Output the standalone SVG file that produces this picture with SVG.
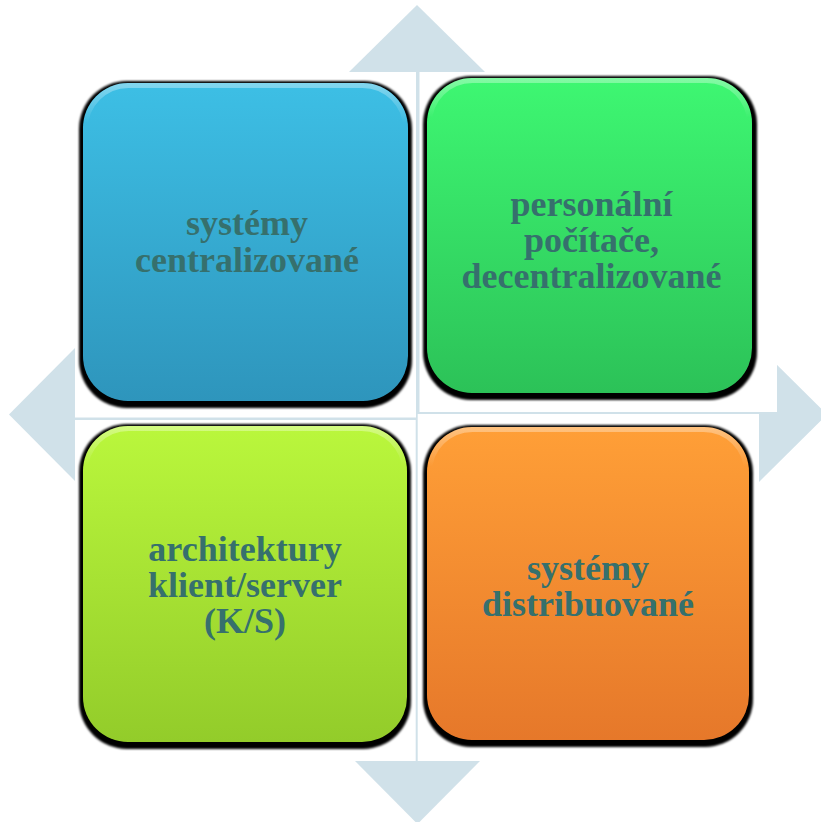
<svg xmlns="http://www.w3.org/2000/svg" width="821" height="822" viewBox="0 0 821 822">
<defs>
<style>
.bg{fill:#D0E1E9}
.wh{fill:#FFFFFF}
.sh{fill:#000000;filter:url(#blur)}
.lbl{font-family:"Liberation Serif","Times New Roman",serif;font-weight:bold;font-size:36px;fill:#36706D;text-anchor:middle}
.hl{fill:none;stroke:url(#hlg);stroke-width:5}
</style>
<filter id="blur" x="-5%" y="-5%" width="110%" height="110%"><feGaussianBlur stdDeviation="0.8"/></filter>
<linearGradient id="gBlue" x1="0" y1="0" x2="0" y2="1"><stop offset="0" stop-color="#3DBFE5"/><stop offset="1" stop-color="#2E95BC"/></linearGradient>
<linearGradient id="gGreen" x1="0" y1="0" x2="0" y2="1"><stop offset="0" stop-color="#3EF772"/><stop offset="1" stop-color="#2CC258"/></linearGradient>
<linearGradient id="gLime" x1="0" y1="0" x2="0" y2="1"><stop offset="0" stop-color="#BAF73C"/><stop offset="1" stop-color="#93CC2A"/></linearGradient>
<linearGradient id="gOrange" x1="0" y1="0" x2="0" y2="1"><stop offset="0" stop-color="#FF9F37"/><stop offset="1" stop-color="#E6782A"/></linearGradient>
<linearGradient id="hlg" x1="0" y1="0" x2="0" y2="1"><stop offset="0" stop-color="#FFFFFF" stop-opacity="0.35"/><stop offset="0.12" stop-color="#FFFFFF" stop-opacity="0"/><stop offset="1" stop-color="#FFFFFF" stop-opacity="0"/></linearGradient>
</defs>
<g id="background">
<rect class="bg" x="75" y="72" width="684" height="689"/>
<polygon class="bg" points="417,5 349,72 485,72"/>
<polygon class="bg" points="9,414.5 75,348 75,481"/>
<polygon class="bg" points="827,414.5 759,347 759,482"/>
<polygon class="bg" points="417.5,824 355,761 480,761"/>
<rect class="wh" x="75" y="72" width="341" height="345.5"/>
<rect class="wh" x="419.5" y="72" width="357.5" height="340"/>
<rect class="wh" x="75" y="420" width="340.7" height="341"/>
<rect class="wh" x="417.7" y="414" width="341.3" height="347"/>
</g>
<g id="connectors"></g>
<g id="node-tl">
<rect class="sh" x="79" y="81" width="333" height="327" rx="48"/>
<rect x="83" y="83" width="325" height="318" rx="45" fill="url(#gBlue)"/>
<rect class="hl" x="85.5" y="85.5" width="320" height="313" rx="43"/>
<text class="lbl" x="247" y="235">systémy</text>
<text class="lbl" x="247" y="272">centralizované</text>
</g>
<g id="node-tr">
<rect class="sh" x="423" y="76" width="334" height="324" rx="48"/>
<rect x="427" y="78" width="325" height="315" rx="45" fill="url(#gGreen)"/>
<rect class="hl" x="429.5" y="80.5" width="320" height="310" rx="43"/>
<text class="lbl" x="591.5" y="216">personální</text>
<text class="lbl" x="591.5" y="252">počítače,</text>
<text class="lbl" x="591.5" y="288">decentralizované</text>
</g>
<g id="node-bl">
<rect class="sh" x="79" y="424" width="332" height="325" rx="48"/>
<rect x="83" y="426" width="324" height="316" rx="45" fill="url(#gLime)"/>
<rect class="hl" x="85.5" y="428.5" width="319" height="311" rx="43"/>
<text class="lbl" x="245" y="561">architektury</text>
<text class="lbl" x="245" y="597">klient/server</text>
<text class="lbl" x="245" y="633">(K/S)</text>
</g>
<g id="node-br">
<rect class="sh" x="423" y="425" width="330" height="322" rx="48"/>
<rect x="427" y="427" width="322" height="313" rx="45" fill="url(#gOrange)"/>
<rect class="hl" x="429.5" y="429.5" width="317" height="308" rx="43"/>
<text class="lbl" x="588" y="580">systémy</text>
<text class="lbl" x="588" y="616">distribuované</text>
</g>
</svg>
